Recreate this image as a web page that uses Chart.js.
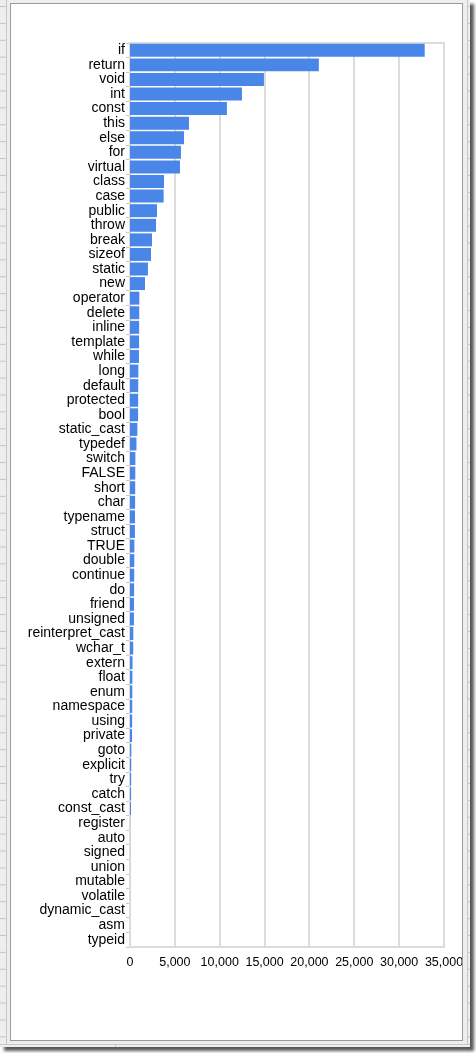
<!DOCTYPE html>
<html>
<head>
<meta charset="utf-8">
<title>C++ keyword counts</title>
<script src="https://cdn.jsdelivr.net/npm/chart.js@4/dist/chart.umd.min.js"></script>
<style>
    html, body { margin: 0; padding: 0; background: #fff; }
    #sheet {
        position: absolute; left: 0; top: 0; width: 470px; height: 1047px;
        background: #eeeeee;
        box-shadow: 4px 4px 3px rgba(0, 0, 0, 0.65);
        overflow: hidden;
    }
    .rows {
        position: absolute; top: 0; height: 1044px;
        background-image: linear-gradient(to bottom, #c4c4c4 1px, transparent 1px);
        background-size: 100% 16.9px;
        background-position: 0 6px;
    }
    #rowsLeft { left: 0; width: 6px; border-right: 1px solid #c8c8c8; }
    #rowsRight { left: 467px; width: 3px; border-left: 1px solid #c8c8c8; }
    #bottomLine {
        position: absolute; left: 0; top: 1044px; width: 470px; height: 3px;
        border-top: 1px solid #c8c8c8;
    }
    #colTick { position: absolute; left: 115px; top: 1044px; width: 1px; height: 3px; background: #c4c4c4; }
    #frame {
        position: absolute; left: 10px; top: 3px; width: 451px; height: 1036px;
        border: 1px solid #9a9a9a; background: #fff; overflow: hidden;
    }
    #keywordChart { position: absolute; left: 0; top: 0; }
</style>
</head>
<body>
<div id="sheet">
    <div class="rows" id="rowsLeft"></div>
    <div class="rows" id="rowsRight"></div>
    <div id="bottomLine"></div>
    <div id="colTick"></div>
    <div id="frame">
        <canvas id="keywordChart" width="470" height="1036"></canvas>
    </div>
</div>
<script>
// Keyword usage counts
const keywords = [
    'if', 'return', 'void', 'int', 'const', 'this', 'else', 'for', 'virtual', 'class',
    'case', 'public', 'throw', 'break', 'sizeof', 'static', 'new', 'operator', 'delete', 'inline',
    'template', 'while', 'long', 'default', 'protected', 'bool', 'static_cast', 'typedef', 'switch', 'FALSE',
    'short', 'char', 'typename', 'struct', 'TRUE', 'double', 'continue', 'do', 'friend', 'unsigned',
    'reinterpret_cast', 'wchar_t', 'extern', 'float', 'enum', 'namespace', 'using', 'private', 'goto', 'explicit',
    'try', 'catch', 'const_cast', 'register', 'auto', 'signed', 'union', 'mutable', 'volatile', 'dynamic_cast',
    'asm', 'typeid'
];

const counts = [
    32850, 21050, 14930, 12480, 10800, 6570, 6020, 5680, 5570, 3790,
    3750, 3010, 2900, 2450, 2340, 2000, 1670, 1040, 1030, 1020,
    1010, 1000, 930, 920, 910, 900, 820, 720, 600, 590,
    580, 570, 560, 550, 490, 480, 470, 460, 450, 440,
    370, 360, 280, 270, 260, 250, 240, 230, 150, 140,
    130, 120, 110, 12, 10, 8, 7, 6, 5, 4,
    3, 2
];

const axisTicks = [0, 5000, 10000, 15000, 20000, 25000, 30000, 35000];

const barColor = '#4a86e8';
const gridColor = '#dcdcdc';
const fontFamily = '"Liberation Sans", Arial, sans-serif';

// light box around the whole plot area, like the spreadsheet chart
const plotBorder = {
    id: 'plotBorder',
    beforeDatasetsDraw(chart) {
        const { ctx, chartArea: a } = chart;
        ctx.save();
        ctx.strokeStyle = gridColor;
        ctx.lineWidth = 2;
        ctx.strokeRect(a.left, a.top, a.right - a.left, a.bottom - a.top);
        ctx.restore();
    }
};

new Chart(document.getElementById('keywordChart'), {
    type: 'bar',
    data: {
        labels: keywords,
        datasets: [{
            data: counts,
            backgroundColor: barColor,
            borderWidth: 0,
            categoryPercentage: 1,
            barPercentage: 0.89
        }]
    },
    options: {
        indexAxis: 'y',
        responsive: false,
        animation: false,
        layout: { padding: { top: 39, right: 37, bottom: 63, left: 0 } },
        plugins: { legend: { display: false }, tooltip: { enabled: false } },
        scales: {
            x: {
                min: axisTicks[0],
                max: axisTicks[axisTicks.length - 1],
                afterBuildTicks: scale => { scale.ticks = axisTicks.map(v => ({ value: v })); },
                afterFit: scale => { scale.height = 30; },
                // zero line comes from the y border, so bars are not shifted off it
                grid: {
                    color: gridColor,
                    lineWidth: c => (c.tick && c.tick.value === 0 ? 0 : 2),
                    drawTicks: false
                },
                border: { color: gridColor, width: 2 },
                ticks: {
                    color: '#000',
                    font: { family: fontFamily, size: 12.5 },
                    padding: 8,
                    maxRotation: 0,
                    autoSkip: false,
                    callback: v => Number(v).toLocaleString('en-US')
                }
            },
            y: {
                afterFit: scale => { scale.width = 119; },
                grid: { drawOnChartArea: false, tickLength: 4, color: '#c8c8c8', offset: true },
                border: { color: gridColor, width: 2 },
                ticks: { color: '#000', font: { family: fontFamily, size: 14 }, padding: 1, autoSkip: false }
            }
        }
    },
    plugins: [plotBorder]
});
</script>
</body>
</html>
